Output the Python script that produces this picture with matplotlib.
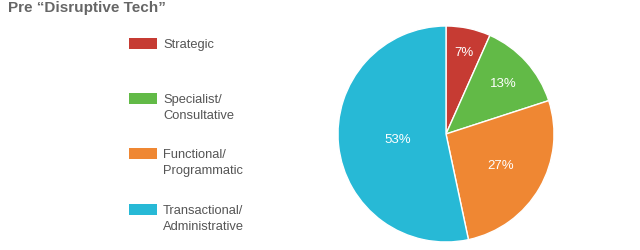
import numpy as np
import matplotlib
matplotlib.use("Agg")
import matplotlib.pyplot as plt
from matplotlib.patches import Rectangle

plt.rcParams['font.family'] = ['Liberation Sans', 'DejaVu Sans']

title = "Pre \u201cDisruptive Tech\u201d"
categories = ["Strategic", "Specialist/\nConsultative", "Functional/\nProgrammatic",
              "Transactional/\nAdministrative"]
counts = [1, 2, 4, 8]
pct_labels = ["7%", "13%", "27%", "53%"]
colors = ["#C63B33", "#62BA47", "#EF8733", "#27B9D6"]
label_radius = [0.78, 0.71, 0.58, 0.45]

W, H = 640, 251
fig = plt.figure(figsize=(W / 100, H / 100), dpi=100)
fig.patch.set_facecolor("white")

# pie axes (pixel geometry converted to figure fractions)
cx, cy, R = 446, 135, 108
ax = fig.add_axes([(cx - R) / W, (H - cy - R) / H, 2 * R / W, 2 * R / H])
wedges, _ = ax.pie(counts, colors=colors, startangle=90, counterclock=False,
                   wedgeprops=dict(edgecolor="white", linewidth=1.0))
for w, lab, rr in zip(wedges, pct_labels, label_radius):
    ang = np.deg2rad((w.theta1 + w.theta2) / 2)
    ax.text(rr * np.cos(ang), rr * np.sin(ang), lab, ha="center", va="center",
            color="white", fontsize=9.5)
ax.set_xlim(-1, 1)
ax.set_ylim(-1, 1)
ax.set_aspect("equal")
ax.axis("off")

# overlay in pixel coordinates for title and legend
ov = fig.add_axes([0, 0, 1, 1])
ov.set_xlim(0, W)
ov.set_ylim(H, 0)
ov.axis("off")
ov.patch.set_alpha(0)

ov.text(8, 12, title, fontsize=11, fontweight="bold", color="#666666",
        ha="left", va="baseline")

box_tops = [39, 94, 149, 205]
line_gap = 16
for top, cat, col in zip(box_tops, categories, colors):
    ov.add_patch(Rectangle((129, top), 28, 11, facecolor=col, edgecolor="none"))
    for i, line in enumerate(cat.split("\n")):
        ov.text(163, top + 6 + i * line_gap, line, fontsize=9.3,
                color="#555555", ha="left", va="center")

fig.savefig("out.png", dpi=100, facecolor="white")
